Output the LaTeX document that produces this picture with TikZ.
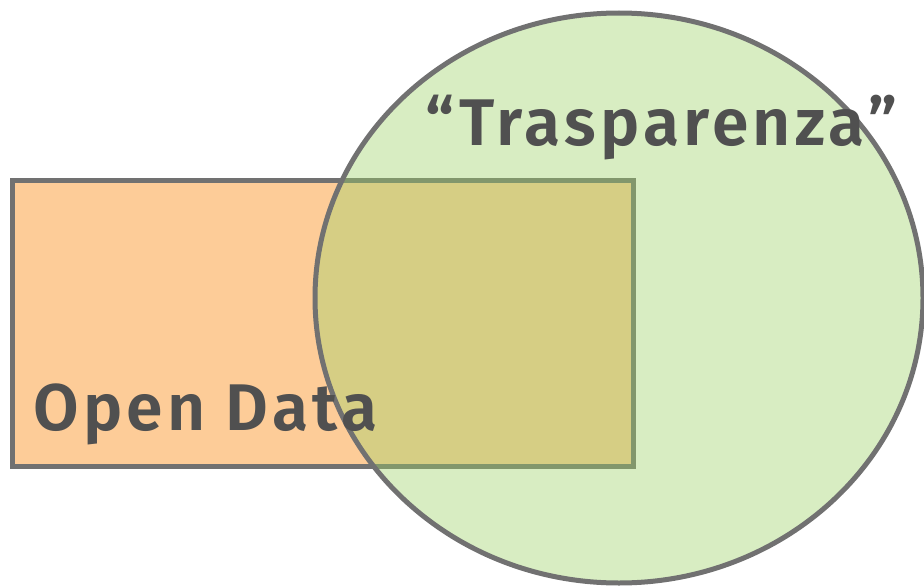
\documentclass[tikz,border=0pt]{standalone}
\usepackage{fontspec}
\setmainfont{Fira Sans}[BoldFont={Fira Sans SemiBold},LetterSpace=6.5]
\definecolor{rectfill}{RGB}{253,204,152}
\definecolor{edge}{RGB}{113,113,113}
\definecolor{ellfill}{RGB}{157,210,102}
\definecolor{txt}{RGB}{80,80,80}
\begin{document}
\begin{tikzpicture}[x=1pt,y=-1pt,
  setbox/.style={draw=edge,line width=5pt,outer sep=0pt},
  label/.style={text=txt,font=\fontsize{66}{66}\selectfont\bfseries,inner sep=0pt}]
\useasboundingbox (0,0) rectangle (924,586);
\node[setbox,fill=rectfill,minimum width=621pt,minimum height=286pt,inner sep=0pt,anchor=north west] (od) at (12,180) {};
\path[fill=ellfill,fill opacity=0.4,draw=edge,line width=5pt] (619,298) ellipse [x radius=304,y radius=285];
\coordinate (ec) at (619,298);
\node[label,anchor=base west] (odl) at (33,430) {Open Data};
\node[label,anchor=base west] (trl) at (425,145) {“Trasparenza”};
\end{tikzpicture}
\end{document}
